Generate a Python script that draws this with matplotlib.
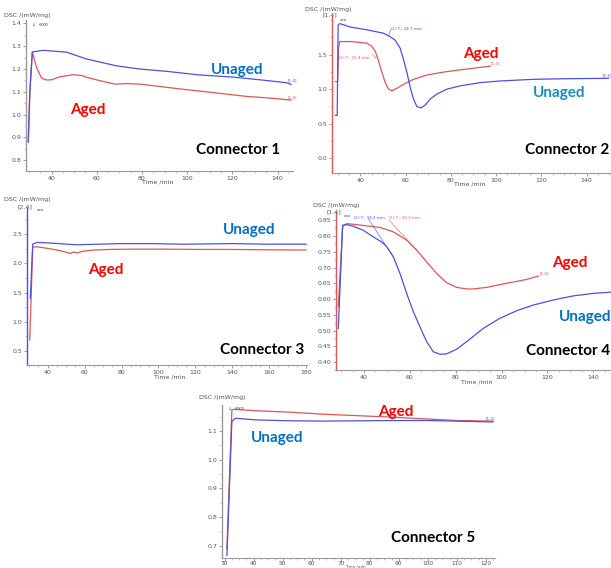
import matplotlib
matplotlib.use("Agg")
import matplotlib.pyplot as plt
from matplotlib.ticker import AutoMinorLocator

# ---- data (time / min, DSC / (mW/mg)) ----
c1_unaged_t = [29.7, 30.4, 31.5, 36.3, 46.6, 55.5, 64.3, 68.7, 79.0, 90.8, 100.0, 105.5, 120.0, 132.0, 143.8, 146.0]
c1_unaged_v = [0.88, 1.10, 1.275, 1.282, 1.274, 1.244, 1.224, 1.214, 1.200, 1.190, 1.180, 1.174, 1.165, 1.153, 1.140, 1.133]
c1_aged_t = [29.7, 30.4, 31.5, 33.4, 35.6, 37.8, 40.0, 43.7, 49.6, 53.3, 55.5, 61.4, 68.0, 73.1, 79.0, 84.9, 96.7, 111.4, 126.2, 135.0, 146.0]
c1_aged_v = [0.88, 1.10, 1.275, 1.206, 1.160, 1.152, 1.153, 1.166, 1.175, 1.172, 1.164, 1.149, 1.134, 1.136, 1.134, 1.127, 1.113, 1.097, 1.080, 1.074, 1.064]

c2_unaged_t = [29.0, 29.8, 30.2, 30.9, 35.6, 42.9, 50.3, 53.2, 55.4, 57.6, 59.1, 60.6, 62.1, 63.5, 65.0, 66.8, 68.7, 70.9, 73.8, 78.2, 84.1, 92.9, 101.8, 116.5, 131.2, 149.6]
c2_unaged_v = [0.62, 0.62, 1.93, 1.95, 1.90, 1.86, 1.81, 1.76, 1.71, 1.595, 1.43, 1.24, 1.02, 0.857, 0.748, 0.729, 0.771, 0.857, 0.929, 1.00, 1.048, 1.095, 1.119, 1.143, 1.152, 1.157]
c2_aged_t = [29.0, 30.0, 30.4, 30.9, 35.6, 42.9, 45.1, 46.6, 48.1, 49.6, 51.0, 52.5, 54.0, 56.2, 59.1, 63.5, 69.4, 76.8, 84.1, 91.5, 97.4]
c2_aged_v = [1.11, 1.11, 1.60, 1.69, 1.69, 1.667, 1.62, 1.55, 1.405, 1.24, 1.095, 1.00, 0.976, 1.014, 1.07, 1.143, 1.205, 1.248, 1.28, 1.31, 1.333]

c3_unaged_t = [30.6, 31.9, 34.2, 41.4, 50.4, 55.8, 68.4, 79.2, 95.4, 113.4, 140.4, 158.3, 180.0]
c3_unaged_v = [1.40, 2.33, 2.36, 2.35, 2.33, 2.32, 2.33, 2.34, 2.34, 2.33, 2.34, 2.33, 2.33]
c3_aged_t = [30.3, 31.9, 34.2, 39.6, 45.0, 50.4, 52.2, 54.0, 56.2, 58.5, 64.8, 73.8, 86.4, 104.4, 122.4, 140.4, 158.3, 180.0]
c3_aged_v = [0.69, 2.28, 2.285, 2.26, 2.23, 2.19, 2.17, 2.195, 2.18, 2.205, 2.23, 2.24, 2.245, 2.245, 2.24, 2.24, 2.234, 2.23]

c4_unaged_t = [28.8, 30.7, 32.4, 35.3, 39.7, 44.1, 47.7, 49.9, 52.8, 55.7, 58.6, 61.5, 64.4, 67.3, 70.2, 73.1, 76.0, 80.4, 84.8, 92.0, 99.3, 106.6, 113.8, 122.6, 131.3, 140.0, 148.0]
c4_unaged_v = [0.507, 0.834, 0.836, 0.831, 0.818, 0.797, 0.781, 0.766, 0.734, 0.681, 0.618, 0.560, 0.512, 0.465, 0.433, 0.425, 0.426, 0.441, 0.465, 0.507, 0.539, 0.563, 0.581, 0.597, 0.610, 0.618, 0.622]
c4_aged_t = [28.8, 30.7, 32.4, 36.8, 41.2, 47.0, 52.8, 58.6, 63.0, 67.3, 71.7, 76.0, 80.4, 84.8, 87.7, 93.5, 102.2, 110.9, 116.0]
c4_aged_v = [0.576, 0.830, 0.839, 0.836, 0.832, 0.827, 0.813, 0.787, 0.755, 0.718, 0.681, 0.652, 0.637, 0.632, 0.632, 0.637, 0.650, 0.662, 0.673]

c5_unaged_t = [30.8, 32.5, 33.7, 41.1, 52.6, 64.0, 75.5, 87.0, 100.8, 122.4]
c5_unaged_v = [0.667, 1.133, 1.144, 1.138, 1.135, 1.134, 1.135, 1.136, 1.136, 1.131]
c5_aged_t = [30.8, 32.5, 33.2, 41.1, 52.6, 64.0, 75.5, 87.0, 98.5, 110.0, 122.4]
c5_aged_v = [0.69, 1.173, 1.175, 1.170, 1.165, 1.158, 1.153, 1.148, 1.142, 1.136, 1.134]

BLUE_LINE = "#4f4fe0"
RED_LINE = "#e05555"
BLUE_TXT = "#0070C0"
RED_TXT = "#FF0000"
GREY_TXT = "#555555"
W, H = 611, 568

fig = plt.figure(figsize=(W / 100, H / 100), dpi=100)


def px_text(x, y, s, size=4.5, color=GREY_TXT, ha="center", **kw):
    # place small text by pixel position (from top-left)
    fig.text(x / W, 1 - y / H, s, fontsize=size, color=color, ha=ha, va="center", **kw)


def make_ax(left, top, right, bottom, xlim, ylim, xticks, yticks, yfmt, spine_col="#9a9a9a"):
    ax = fig.add_axes([left / W, 1 - bottom / H, (right - left) / W, (bottom - top) / H])
    ax.set_xlim(*xlim)
    ax.set_ylim(*ylim)
    ax.set_xticks(xticks)
    ax.set_yticks(yticks)
    ax.set_yticklabels([yfmt.format(v) for v in yticks])
    ax.xaxis.set_minor_locator(AutoMinorLocator(4))
    ax.yaxis.set_minor_locator(AutoMinorLocator(2))
    for s in ("top", "right"):
        ax.spines[s].set_visible(False)
    ax.spines["bottom"].set_color("#9a9a9a")
    ax.spines["left"].set_color(spine_col)
    ax.spines["left"].set_linewidth(1.0)
    ax.tick_params(labelsize=4.5, colors="#777777", labelcolor=GREY_TXT, length=2, width=0.5, pad=1.5)
    ax.tick_params(which="minor", length=1.2, width=0.4, colors="#999999")
    ax.patch.set_alpha(0)
    return ax


def end_tag(ax, t, v, color):
    ax.text(t, v, "[1.4]", fontsize=2.8, color=color, ha="left", va="bottom")


def big(x, y, s, color):
    fig.text(x / W, 1 - y / H, s, fontsize=11, fontweight="bold", color=color,
             family=["Lato", "DejaVu Sans"], ha="center", va="center")


# ---- Connector 1 ----
ax1 = make_ax(26, 20, 293, 171, (28.7, 146.8), (0.753, 1.415), [40, 60, 80, 100, 120, 140],
              [0.8, 0.9, 1.0, 1.1, 1.2, 1.3, 1.4], "{:.1f}")
ax1.plot(c1_aged_t, c1_aged_v, color=RED_LINE, lw=0.9)
ax1.plot(c1_unaged_t, c1_unaged_v, color=BLUE_LINE, lw=0.9)
end_tag(ax1, 144.5, 1.14, BLUE_LINE)
end_tag(ax1, 144.5, 1.068, RED_LINE)
px_text(27, 15, "DSC /(mW/mg)")
px_text(32, 24, "\u2193  exo", size=3.5, ha="left")
px_text(158, 182, "Time /min")

# ---- Connector 2 ----
ax2 = make_ax(332, 16, 610, 173, (27.5, 150.3), (-0.214, 2.06), [40, 60, 80, 100, 120, 140],
              [0.0, 0.5, 1.0, 1.5], "{:.1f}", spine_col=RED_LINE)
ax2.plot(c2_aged_t, c2_aged_v, color=RED_LINE, lw=0.9)
ax2.plot(c2_unaged_t, c2_unaged_v, color=BLUE_LINE, lw=0.9)
ax2.text(53.5, 1.86, "O.I.T.: 24.7 min", fontsize=3, color=BLUE_LINE)
ax2.text(30.5, 1.44, "O.I.T.: 15.4 min", fontsize=3, color=RED_LINE)
ax2.plot([52.5, 53.5], [1.78, 1.86], color=BLUE_LINE, lw=0.4)
ax2.plot([45.5, 47.0], [1.50, 1.44], color=RED_LINE, lw=0.4)
end_tag(ax2, 97.6, 1.34, RED_LINE)
end_tag(ax2, 147.0, 1.17, BLUE_LINE)
px_text(328, 9, "DSC /(mW/mg)")
px_text(330, 15, "[1.4]")
px_text(343, 20, "exo", size=3)
px_text(470, 184, "Time /min")

# ---- Connector 3 ----
ax3 = make_ax(27, 208, 307, 365, (28.8, 180.5), (0.26, 2.95), [40, 60, 80, 100, 120, 140, 160, 180],
              [0.5, 1.0, 1.5, 2.0, 2.5], "{:.1f}", spine_col=BLUE_LINE)
ax3.plot(c3_aged_t, c3_aged_v, color=RED_LINE, lw=0.9)
ax3.plot(c3_unaged_t, c3_unaged_v, color=BLUE_LINE, lw=0.9)
px_text(27, 200, "DSC /(mW/mg)")
px_text(25, 207, "[2.4]")
px_text(40, 210, "exo", size=3)
px_text(170, 377, "Time /min")

# ---- Connector 4 ----
ax4 = make_ax(336, 212, 611, 370, (27.8, 147.7), (0.375, 0.876), [40, 60, 80, 100, 120, 140],
              [0.40, 0.45, 0.50, 0.55, 0.60, 0.65, 0.70, 0.75, 0.80, 0.85], "{:.2f}", spine_col=RED_LINE)
ax4.plot(c4_aged_t, c4_aged_v, color=RED_LINE, lw=0.9)
ax4.plot(c4_unaged_t, c4_unaged_v, color=BLUE_LINE, lw=0.9)
ax4.text(35.8, 0.852, "O.I.T.: 34.2 min", fontsize=3, color=BLUE_LINE, va="bottom")
ax4.text(51.0, 0.850, "O.I.T.: 33.3 min", fontsize=3, color=RED_LINE, va="bottom")
ax4.plot([42.0, 52.8], [0.853, 0.734], color=BLUE_LINE, lw=0.4)
ax4.plot([51.0, 63.0], [0.850, 0.755], color=RED_LINE, lw=0.4)
end_tag(ax4, 116.5, 0.675, RED_LINE)
px_text(336, 205, "DSC /(mW/mg)")
px_text(334, 212, "[1.4]")
px_text(347, 216, "exo", size=3)
px_text(477, 382, "Time /min")

# ---- Connector 5 ----
ax5 = make_ax(222, 405, 495, 558, (29.1, 123.1), (0.658, 1.19), [30, 40, 50, 60, 70, 80, 90, 100, 110, 120],
              [0.7, 0.8, 0.9, 1.0, 1.1], "{:.1f}")
ax5.tick_params(axis="x", pad=0.5, labelsize=4.2)
ax5.plot(c5_aged_t, c5_aged_v, color=RED_LINE, lw=0.9)
ax5.plot(c5_unaged_t, c5_unaged_v, color=BLUE_LINE, lw=0.9)
end_tag(ax5, 120.0, 1.137, BLUE_LINE)
px_text(222, 398, "DSC /(mW/mg)")
px_text(228, 408, "\u2193  exo", size=3.5, ha="left")
px_text(355, 566.8, "Time /min", size=3)

# ---- big labels ----
big(237, 70, "Unaged", BLUE_TXT)
big(88, 110, "Aged", RED_TXT)
big(238, 150, "Connector 1", "black")
big(481, 54, "Aged", RED_TXT)
big(559, 93, "Unaged", "#1b8bc3")
big(567, 150, "Connector 2", "black")
big(249, 230, "Unaged", BLUE_TXT)
big(106, 270, "Aged", RED_TXT)
big(262, 350, "Connector 3", "black")
big(570, 263, "Aged", RED_TXT)
big(585, 317, "Unaged", BLUE_TXT)
big(568, 351, "Connector 4", "black")
big(396, 412, "Aged", RED_TXT)
big(277, 438, "Unaged", BLUE_TXT)
big(433, 538, "Connector 5", "black")

fig.savefig("out.png", dpi=100)
